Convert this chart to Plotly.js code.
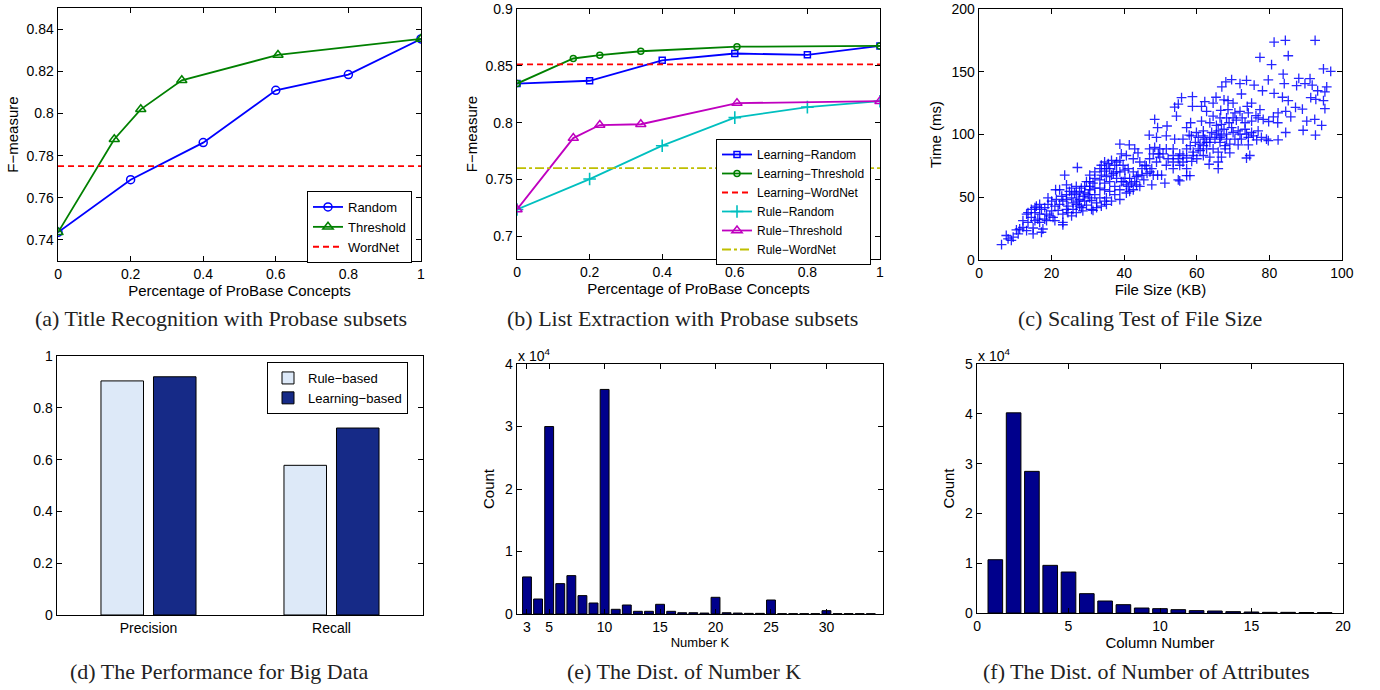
<!DOCTYPE html>
<html>
<head>
<meta charset="utf-8">
<script src="https://cdn.plot.ly/plotly-3.0.1.min.js"></script>
<style>
html,body{margin:0;padding:0;background:#fff;}
#chart{width:1380px;height:690px;}
</style>
</head>
<body>
<div id="chart"></div>
<script>
// ---------- (a) Title Recognition ----------
const aRandomX = [0, 0.2, 0.4, 0.6, 0.8, 1];
const aRandomY = [0.7436, 0.7686, 0.7862, 0.811, 0.8185, 0.8354];
const aThreshX = [0, 0.155, 0.228, 0.341, 0.606, 1];
const aThreshY = [0.7436, 0.7878, 0.802, 0.8158, 0.8278, 0.8354];
const aWordNet = 0.775;

// ---------- (b) List Extraction ----------
const bRandomX = [0, 0.2, 0.4, 0.6, 0.8, 1];
const bThreshX = [0, 0.155, 0.228, 0.341, 0.606, 1];
const bLearnRandom = [0.8345, 0.837, 0.855, 0.861, 0.8598, 0.8677];
const bLearnThresh = [0.8345, 0.8566, 0.8595, 0.863, 0.867, 0.8677];
const bLearnWordNet = 0.8514;
const bRuleRandom = [0.7236, 0.7504, 0.7798, 0.8045, 0.8138, 0.819];
const bRuleThresh = [0.7236, 0.7865, 0.798, 0.7987, 0.8173, 0.819];
const bRuleWordNet = 0.76;

// ---------- (c) Scaling test (File Size KB, Time ms) ----------
const fileSizeKB = [81.3,84.4,92.6,77.4,85.2,80.6,94.9,96.9,83.8,88.1,91.2,79.7,84.1,87.5,89.8,91.8,93.3,95.8,95.3,78.1,
81.3,83.6,85.2,91.4,92.8,94.9,95.3,87.2,89.1,82.4,84.5,85.9,81.1,90.3,92.5,94.4,89.3,84.5,82.4,92.7,
79.2,82.3,79.8,78.3,76.3,77.4,75.1,73.9,73.7,71.9,69.6,68,66.9,75.8,72.3,70,68.6,67.5,65.3,64.5,
62.2,61.3,58.8,55.8,54.9,53.9,58.8,62.7,64.5,66.6,68.6,70.5,71.9,74.2,72.5,70.9,68.9,66.8,65.4,63.6,
61.3,58.3,57.2,54.4,51.8,48.4,49.2,51.6,48.9,46.9,53.9,56.2,57.9,59.9,61.8,64.1,65.9,67.5,69.6,71.4,
73.3,75.1,76.9,77.8,79.7,76.5,74.2,72.3,71.4,74.2,74.6,73.7,70.5,69.1,67.8,66.4,65,63.6,62.2,60.9,
59.6,58.2,57.2,59,60.9,62.7,64.5,65.9,67.8,69.1,66.8,65.9,65.9,63.4,63.6,61.8,60,58.6,57.2,56.2,
54.9,53.5,52.1,50.7,49.8,48.4,47,49.8,48.9,51.6,53.5,55.3,57.2,54.9,55.3,57.2,58.1,50.3,51.2,49.2,
47.6,46.1,47.6,45.4,43.8,42.5,41.1,39.7,38.8,40.6,38.8,41.4,42.9,43.8,42.5,44.3,45.7,41.5,42.9,44.3,
42.5,40.6,39.2,37.9,37,36,35.6,37.4,34.6,33.3,31.9,30.5,27.1,29.6,31.4,33.3,34.6,36,37.4,38.8,
40.6,41.5,38.8,37.4,36,34.6,33.3,31.9,30.5,29.1,28.2,26.8,25.5,24.1,23.6,22.2,21.1,19,24.1,25.5,
26.8,27.7,29.1,30.5,31.9,33.3,34.6,33.7,32.4,31,29.6,28.2,26.8,25.9,24.5,23.1,22.2,20.9,20,21.8,
23.1,24.5,25.5,26.8,28.6,31.4,20.4,18.6,17.2,15.8,16.7,15.4,14.4,13.1,12.1,13.5,15.4,16.7,18.6,20.9,
23.1,23.1,17.6,17.2,14.9,13.1,12.1,10.3,10.8,9.4,8,8.9,6.2,7.5,11.2,14.9,
39.7,41.1,42,43.4,40.2,43.4,44.9,46.3,47.1,48,44.9,47,48,49.4,51.6,53.5,55.3,53.5,56.2,59,
60.4,61.8,62.7,58.5,60.4,61.8,63.6,65.4,66.8,68.2,70,71.9,73.7,75.6,73.3,75.1,76.9,70,68.2,66.4,
68.2,66.4,
30.5,31.9,33.7,35.1,36.5,37.9,35.1,33.7,34.6,36.5,37.9,38.8,40.2,39.2,
24.9,26.3,27.7,29.1,30.5,28.7,30.1,27.3,25.9,24.1,22.8,21.3,20,19,18.1,16.7,15.4,14.4,13.5,19.5,
18.1,16.2,24.1,27.7,31,32.4,35.1,36.5,35.1];
const timeMs = [173.7,175,175,161.5,162.8,155.7,152.3,150.3,148.2,144.8,144.5,143.5,140.6,139,140.6,139.3,134.9,138,134,134.9,
132.8,129.7,127,129.4,128,127,120.6,121.6,120.3,117.2,118.5,114,114,110.7,112,107.3,103.4,101.6,95.8,99.5,
96.4,109.4,110.4,112,115.1,119.8,125,122.4,143.2,140.6,143.8,141.9,138,139.3,132.3,125,127,127.6,129.7,125,
126.3,122.4,130.2,129.4,124.2,121.9,122.4,118.5,114.6,119.3,119.8,117.2,118.5,117.2,113.3,111.5,109.4,108.1,107.3,109.4,
110.7,109.4,105.5,114.6,106.8,112,105.5,98.9,97.7,99.5,96.4,96.4,99.5,101.6,102.9,101.6,102.9,104.2,105.5,102.9,
104.2,101.6,102.9,97.7,95.1,95.8,97.7,96.4,91.7,91.7,83.3,81.3,96.4,92.4,91.1,93.8,96.4,93.8,96.4,92.4,
93.8,91.1,88.5,85.9,87.2,88.5,88.5,85.9,88.5,85.4,82,78.1,72.9,76.3,82,83.3,80.7,78.6,81.3,78.1,
80.7,83.3,80.7,84.6,88.5,89.8,88.5,82,78.1,75.5,72.9,75.5,72.9,63.8,63,67.2,67.2,67.7,61.2,67.7,
72.9,75,59.9,63.8,67.7,70.3,72.9,75.5,79.4,83.3,92.4,91.7,88.5,85.4,80.7,78.1,75.5,65.1,62.5,58.6,
56,59.9,62.5,65.1,69,72.9,76.8,75.5,70.8,72.9,70.3,67.7,73.7,62.5,61.2,63.8,61.2,62.5,58.6,56,
53.4,54.7,48.2,52.1,54.7,56,57.3,57.3,56,53.4,57.3,58.6,57.3,59.9,67.7,56,56,49.5,52.1,49.5,
52.1,48.2,46.9,49.5,52.1,49.5,46.9,43,45.6,47.4,43.8,41.7,44.3,40.4,43,46.9,44.3,43,39.1,39.6,
36.5,37.8,35.2,37.8,39.1,39.6,33.9,36.5,40.4,43,36.5,37.8,33.9,36.5,31.3,29.9,31.3,29.9,31.3,31.3,
29.9,28.1,24.7,22.1,25.5,23.4,26,24,20.8,18.2,16.9,15.6,12.2,19.5,24.7,20.8,
62.5,58.6,61.2,59.9,65.1,66.4,67.7,69,70.3,67.7,72.9,80.7,84.6,84.6,88.5,88.5,84.6,78.1,83.3,83.3,
88.5,91.1,93.8,99,97.7,99,97.7,100.3,99,100.3,101.6,100.3,100.3,99,109.4,110.7,113.3,113.3,113.3,113.3,
96.4,97.7,
62.5,65.1,67.7,66.4,67.7,70.3,72.9,75.5,78.1,79.4,78.1,70.3,71.6,84.6,
54.7,53.4,54.7,58.6,58.6,50.8,52.1,46.9,45.6,48.2,50.8,48.2,46.9,44.3,41.7,44.3,41.7,40.4,37.8,35.2,
32.6,32.6,40.4,43,40.4,41.7,44.3,46.9,49.5];

// ---------- (d) Performance for Big Data ----------
const dMetrics = ['Precision', 'Recall'];
const dRuleBased = [0.904, 0.578];
const dLearningBased = [0.920, 0.722];

// ---------- (e) Distribution of Number K ----------
const eK = [3,4,5,6,7,8,9,10,11,12,13,14,15,16,17,18,19,20,21,22,23,24,25,26,27,28,29,30,31,32,33,34];
const eCount = [5930,2400,30000,4860,6140,2940,1760,35940,750,1440,430,430,1550,430,200,200,150,2670,200,150,100,100,2240,50,50,50,50,530,50,60,50,40];
const eTickVals = [3,5,10,15,20,25,30];

// ---------- (f) Distribution of Number of Attributes ----------
const fColumn = [1,2,3,4,5,6,7,8,9,10,11,12,13,14,15,16,17,18,19];
const fCount = [10700,40200,28450,9570,8230,3880,2410,1670,1000,870,670,470,400,270,200,130,130,100,70];

// ---------- common styling ----------
const FONT = 'Liberation Sans, Arial, sans-serif';
const SERIF = 'Liberation Serif, Times New Roman, serif';
function axisBase(extra) {
  return Object.assign({
    showline: true, linecolor: '#000', linewidth: 1.4, mirror: 'ticks',
    ticks: 'inside', ticklen: 5, tickwidth: 1, tickcolor: '#000',
    showgrid: false, zeroline: false, ticklabeloverflow: 'allow',
    tickfont: {family: FONT, size: 14, color: '#000'},
    fixedrange: true
  }, extra);
}
function px2x(p) { return p / 1380; }
function px2y(p) { return 1 - p / 690; }

const BLUE = '#0000FF', GREEN = '#008000', RED = '#FF0000',
      CYAN = '#00BFBF', MAGENTA = '#BF00BF', OLIVE = '#BFBF00';
const LW = 1.8;

const data = [
  // (a)
  {x: aRandomX, y: aRandomY, xaxis: 'x', yaxis: 'y', name: 'Random', mode: 'lines+markers',
   line: {color: BLUE, width: LW}, marker: {symbol: 'circle-open', size: 8, color: BLUE, line: {width: 1.5}}, legend: 'legend'},
  {x: aThreshX, y: aThreshY, xaxis: 'x', yaxis: 'y', name: 'Threshold', mode: 'lines+markers',
   line: {color: GREEN, width: LW}, marker: {symbol: 'triangle-up-open', size: 9, color: GREEN, line: {width: 1.5}}, legend: 'legend'},
  {x: [0, 1], y: [aWordNet, aWordNet], xaxis: 'x', yaxis: 'y', name: 'WordNet', mode: 'lines',
   line: {color: RED, width: LW, dash: '6px,4px'}, legend: 'legend'},
  // (b)
  {x: bRandomX, y: bLearnRandom, xaxis: 'x2', yaxis: 'y2', name: 'Learning\u2212Random', mode: 'lines+markers',
   line: {color: BLUE, width: LW}, marker: {symbol: 'square-open', size: 6, color: BLUE, line: {width: 1.5}}, legend: 'legend2'},
  {x: bThreshX, y: bLearnThresh, xaxis: 'x2', yaxis: 'y2', name: 'Learning\u2212Threshold', mode: 'lines+markers',
   line: {color: GREEN, width: LW}, marker: {symbol: 'circle-open', size: 6, color: GREEN, line: {width: 1.5}}, legend: 'legend2'},
  {x: [0, 1], y: [bLearnWordNet, bLearnWordNet], xaxis: 'x2', yaxis: 'y2', name: 'Learning\u2212WordNet', mode: 'lines',
   line: {color: RED, width: LW, dash: '6px,4px'}, legend: 'legend2'},
  {x: bRandomX, y: bRuleRandom, xaxis: 'x2', yaxis: 'y2', name: 'Rule\u2212Random', mode: 'lines+markers',
   line: {color: CYAN, width: LW}, marker: {symbol: 'cross-thin-open', size: 9, color: CYAN, line: {width: 1.6, color: CYAN}}, legend: 'legend2'},
  {x: bThreshX, y: bRuleThresh, xaxis: 'x2', yaxis: 'y2', name: 'Rule\u2212Threshold', mode: 'lines+markers',
   line: {color: MAGENTA, width: LW}, marker: {symbol: 'triangle-up-open', size: 9, color: MAGENTA, line: {width: 1.5}}, legend: 'legend2'},
  {x: [0, 1], y: [bRuleWordNet, bRuleWordNet], xaxis: 'x2', yaxis: 'y2', name: 'Rule\u2212WordNet', mode: 'lines',
   line: {color: OLIVE, width: LW, dash: 'dashdot'}, legend: 'legend2'},
  // (c)
  {x: fileSizeKB, y: timeMs, xaxis: 'x3', yaxis: 'y3', mode: 'markers', showlegend: false, name: 'files',
   marker: {symbol: 'cross-thin-open', size: 7, color: 'rgba(0,0,255,0.85)', line: {width: 1.3, color: 'rgba(0,0,255,0.85)'}}},
  // (d)
  {x: dMetrics, y: dRuleBased, xaxis: 'x4', yaxis: 'y4', type: 'bar', name: 'Rule\u2212based',
   marker: {color: 'rgb(221,233,248)', line: {color: '#000', width: 1}}, legend: 'legend3'},
  {x: dMetrics, y: dLearningBased, xaxis: 'x4', yaxis: 'y4', type: 'bar', name: 'Learning\u2212based',
   marker: {color: 'rgb(22,42,135)', line: {color: '#000', width: 1}}, legend: 'legend3'},
  // (e)
  {x: eK, y: eCount, xaxis: 'x5', yaxis: 'y5', type: 'bar', width: 0.8, showlegend: false, name: 'K',
   marker: {color: 'rgb(0,0,140)', line: {color: '#000', width: 1}}},
  // (f)
  {x: fColumn, y: fCount, xaxis: 'x6', yaxis: 'y6', type: 'bar', width: 0.8, showlegend: false, name: 'Columns',
   marker: {color: 'rgb(0,0,140)', line: {color: '#000', width: 1}}}
];

const titleFont = {family: FONT, size: 15, color: '#000'};
const legendBase = {bgcolor: '#fff', bordercolor: '#000', borderwidth: 1,
  font: {family: FONT, size: 13, color: '#000'}, xanchor: 'left', yanchor: 'top', itemwidth: 30,
  tracegroupgap: 0};
const captionFont = {family: SERIF, size: 22, color: '#222'};

const layout = {
  width: 1380, height: 690,
  margin: {l: 0, r: 0, t: 0, b: 0},
  paper_bgcolor: '#fff', plot_bgcolor: '#fff',
  barmode: 'group', bargap: 0.426, bargroupgap: 0.19,
  font: {family: FONT, color: '#000'},
  // (a)
  xaxis: axisBase({domain: [px2x(58), px2x(421)], anchor: 'y', range: [-0.0001, 1.0001], tickvals: [0,0.2,0.4,0.6,0.8,1], ticktext: ['0','0.2','0.4','0.6','0.8','1'],
    title: {text: 'Percentage of ProBase Concepts', font: titleFont, standoff: 0}}),
  yaxis: axisBase({domain: [px2y(261), px2y(8)], anchor: 'x', range: [0.73, 0.8501], tickvals: [0.74,0.76,0.78,0.8,0.82,0.84], ticktext: ['0.74','0.76','0.78','0.8','0.82','0.84'],
    title: {text: 'F\u2212measure', font: titleFont, standoff: 4}}),
  // (b)
  xaxis2: axisBase({domain: [px2x(517), px2x(880)], anchor: 'y2', range: [-0.0001, 1.0001], tickvals: [0,0.2,0.4,0.6,0.8,1], ticktext: ['0','0.2','0.4','0.6','0.8','1'],
    title: {text: 'Percentage of ProBase Concepts', font: titleFont, standoff: 0}}),
  yaxis2: axisBase({domain: [px2y(259), px2y(9)], anchor: 'x2', range: [0.68, 0.9002], tickvals: [0.7,0.75,0.8,0.85,0.9], ticktext: ['0.7','0.75','0.8','0.85','0.9'],
    title: {text: 'F\u2212measure', font: titleFont, standoff: 4}}),
  // (c)
  xaxis3: axisBase({domain: [px2x(979), px2x(1342)], anchor: 'y3', range: [-0.01, 100.01], tickvals: [0,20,40,60,80,100],
    title: {text: 'File Size (KB)', font: titleFont, standoff: 0}}),
  yaxis3: axisBase({domain: [px2y(260), px2y(9)], anchor: 'x3', range: [-0.01, 200.05], tickvals: [0,50,100,150,200],
    title: {text: 'Time (ms)', font: titleFont, standoff: 6}}),
  // (d)
  xaxis4: axisBase({domain: [px2x(57), px2x(423)], anchor: 'y4', type: 'category', range: [-0.5, 1.5], ticks: '', mirror: true}),
  yaxis4: axisBase({domain: [px2y(615), px2y(356)], anchor: 'x4', range: [-0.0001, 1.0002], tickvals: [0,0.2,0.4,0.6,0.8,1], ticktext: ['0','0.2','0.4','0.6','0.8','1']}),
  // (e)
  xaxis5: axisBase({domain: [px2x(517), px2x(883)], anchor: 'y5', range: [2.1, 35.1], tickvals: eTickVals,
    title: {text: 'Number K', font: {family: FONT, size: 13, color: '#000'}, standoff: 0}}),
  yaxis5: axisBase({domain: [px2y(614), px2y(364)], anchor: 'x5', range: [-1, 40010], tickvals: [0,10000,20000,30000,40000], ticktext: ['0','1','2','3','4'],
    title: {text: 'Count', font: titleFont, standoff: 6}}),
  // (f)
  xaxis6: axisBase({domain: [px2x(977), px2x(1343)], anchor: 'y6', range: [-0.001, 20.001], tickvals: [0,5,10,15,20],
    title: {text: 'Column Number', font: titleFont, standoff: 0}}),
  yaxis6: axisBase({domain: [px2y(613), px2y(364)], anchor: 'x6', range: [-1, 50010], tickvals: [0,10000,20000,30000,40000,50000], ticktext: ['0','1','2','3','4','5'],
    title: {text: 'Count', font: titleFont, standoff: 6}}),
  legend: Object.assign({}, legendBase, {x: px2x(307), y: px2y(191)}),
  legend2: Object.assign({}, legendBase, {x: px2x(716), y: px2y(139), font: {family: FONT, size: 12, color: '#000'}}),
  legend3: Object.assign({}, legendBase, {x: px2x(267), y: px2y(362)}),
  annotations: [
    {xref: 'paper', yref: 'paper', x: px2x(516), y: px2y(355), xanchor: 'left', yanchor: 'middle', showarrow: false,
     text: 'x 10<sup>4</sup>', font: {family: FONT, size: 14, color: '#000'}},
    {xref: 'paper', yref: 'paper', x: px2x(976), y: px2y(355), xanchor: 'left', yanchor: 'middle', showarrow: false,
     text: 'x 10<sup>4</sup>', font: {family: FONT, size: 14, color: '#000'}},
    {xref: 'paper', yref: 'paper', x: px2x(221), y: px2y(319), xanchor: 'center', yanchor: 'middle', showarrow: false,
     text: '(a) Title Recognition with Probase subsets', font: captionFont},
    {xref: 'paper', yref: 'paper', x: px2x(682), y: px2y(319), xanchor: 'center', yanchor: 'middle', showarrow: false,
     text: '(b) List Extraction with Probase subsets', font: captionFont},
    {xref: 'paper', yref: 'paper', x: px2x(1140), y: px2y(319), xanchor: 'center', yanchor: 'middle', showarrow: false,
     text: '(c) Scaling Test of File Size', font: captionFont},
    {xref: 'paper', yref: 'paper', x: px2x(220), y: px2y(671), xanchor: 'center', yanchor: 'middle', showarrow: false,
     text: '(d) The Performance for Big Data', font: captionFont},
    {xref: 'paper', yref: 'paper', x: px2x(684), y: px2y(671), xanchor: 'center', yanchor: 'middle', showarrow: false,
     text: '(e) The Dist. of Number K', font: captionFont},
    {xref: 'paper', yref: 'paper', x: px2x(1146), y: px2y(671), xanchor: 'center', yanchor: 'middle', showarrow: false,
     text: '(f) The Dist. of Number of Attributes', font: captionFont}
  ]
};

Plotly.newPlot('chart', data, layout, {staticPlot: true, displayModeBar: false});
</script>
</body>
</html>
